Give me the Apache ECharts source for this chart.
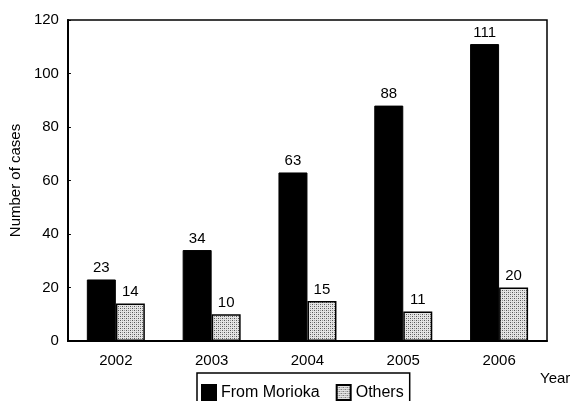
<!DOCTYPE html>
<html><head><meta charset="utf-8">
<script src="https://cdn.jsdelivr.net/npm/echarts@6/dist/echarts.min.js"></script>
<style>html,body{margin:0;padding:0;background:#fff}#c{width:576px;height:401px}</style>
</head><body><div id="c"></div>
<script>
var years = ['2002','2003','2004','2005','2006'];
var morioka = [23, 34, 63, 88, 111];
var others = [14, 10, 15, 11, 20];
var yTicks = [0, 20, 40, 60, 80, 100, 120];

function makePattern(){
  var c = document.createElement('canvas'); c.width = 4; c.height = 4;
  var g = c.getContext('2d');
  g.fillStyle = '#e4e4e4'; g.fillRect(0,0,4,4);
  g.fillStyle = '#555';
  g.fillRect(0,0,1,1); g.fillRect(2,2,1,1);
  g.fillStyle = '#999';
  g.fillRect(2,0,1,1); g.fillRect(0,2,1,1);
  return c;
}
var pat = {image: makePattern(), repeat: 'repeat'};
var font = 'Liberation Sans, Arial, sans-serif';
var chart = echarts.init(document.getElementById('c'));
chart.setOption({
  animation: false,
  textStyle: {fontFamily: font},
  grid: {left: 66, right: 29, top: 20, bottom: 60, show: true, borderColor: '#000', borderWidth: 1.5},
  legend: {
    left: 197, top: 373, itemWidth: 14, itemHeight: 15, itemGap: 16,
    borderColor: '#000', borderWidth: 1.5, borderRadius: 0, padding: [11, 6, 10, 4],
    textStyle: {fontSize: 16, color: '#000', fontFamily: font},
    data: [{name: 'From Morioka', icon: 'rect'}, {name: 'Others', icon: 'rect'}]
  },
  xAxis: {
    type: 'category', data: years,
    axisLine: {lineStyle: {color: '#000', width: 2}},
    axisTick: {inside: true, length: 5, lineStyle: {color: '#000', width: 1.5}},
    axisLabel: {color: '#000', fontSize: 15, margin: 12, fontFamily: font}
  },
  yAxis: {
    type: 'value', min: 0, max: 120, interval: 20,
    name: 'Number of cases', nameLocation: 'middle', nameGap: 38, nameRotate: 90,
    nameTextStyle: {color: '#000', fontSize: 15, fontFamily: font},
    axisLine: {show: true, lineStyle: {color: '#000', width: 2}},
    axisTick: {show: true, inside: true, length: 3, lineStyle: {color: '#000'}},
    axisLabel: {color: '#000', fontSize: 15, margin: 9, fontFamily: font,
      formatter: function(v){ return yTicks.indexOf(v) >= 0 ? String(v) : ''; }},
    splitLine: {show: false}
  },
  series: [
    {name: 'From Morioka', type: 'bar', data: morioka, barWidth: 29, barGap: '0%',
     itemStyle: {color: '#000', borderColor: '#000', borderWidth: 1},
     label: {show: true, position: 'top', color: '#000', fontSize: 15, distance: 4, fontFamily: font}},
    {name: 'Others', type: 'bar', data: others, barWidth: 29,
     itemStyle: {color: pat, borderColor: '#000', borderWidth: 1.5},
     label: {show: true, position: 'top', color: '#000', fontSize: 15, distance: 4, fontFamily: font}}
  ],
  graphic: [{type: 'text', left: 540, top: 371, style: {text: 'Year', fontSize: 15, fill: '#000', fontFamily: font}}]
});
</script></body></html>
